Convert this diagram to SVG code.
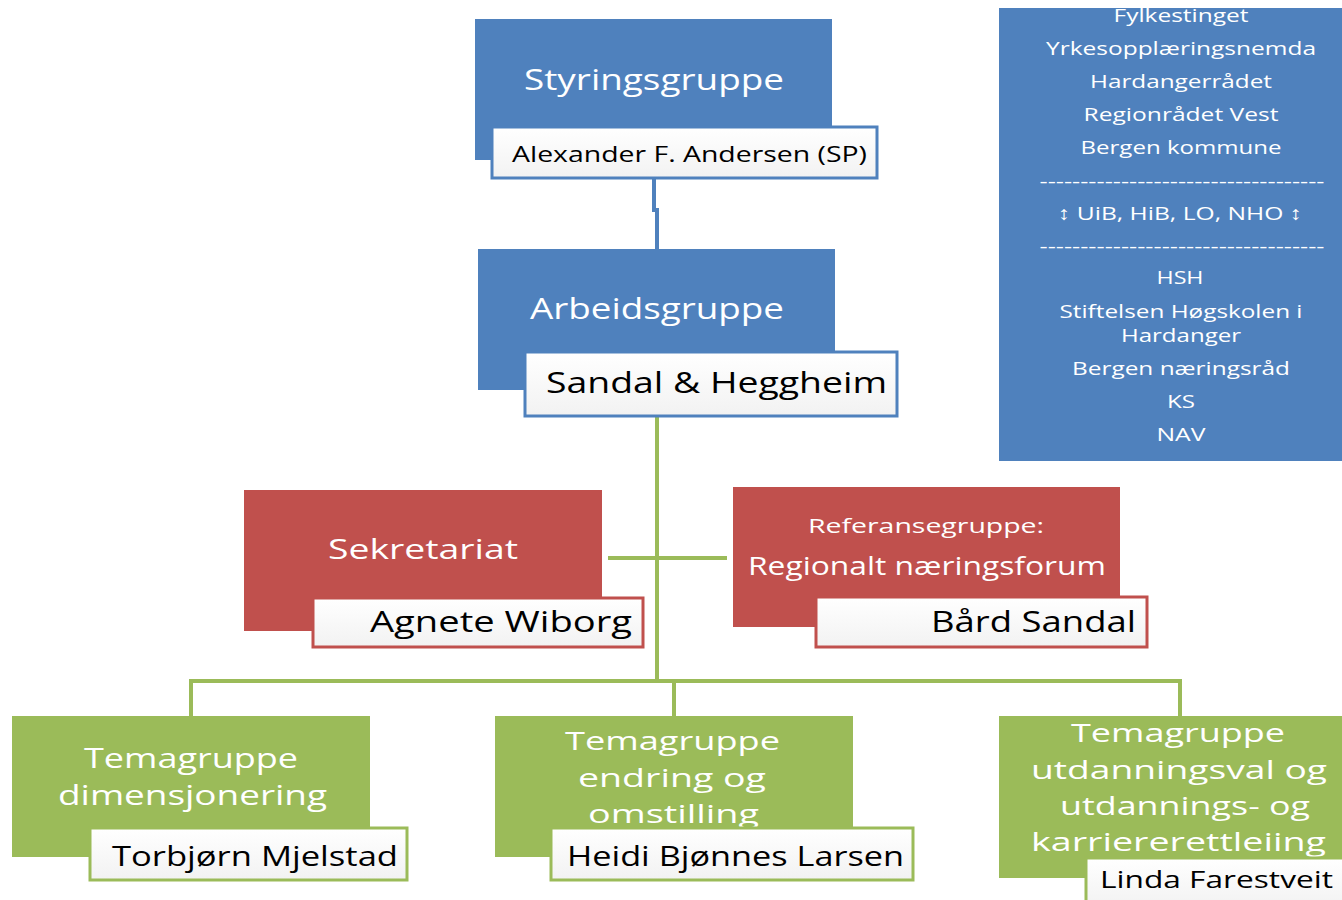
<svg xmlns="http://www.w3.org/2000/svg" width="1342" height="900" viewBox="0 0 1342 900">
<style>
.t{font-family:"Open Sans","Noto Sans",sans-serif;}
.w{fill:#ffffff;}
.k{fill:#000000;}
.c{text-anchor:middle;}
.blue{fill:#4F81BD;}
.red{fill:#C0504D;}
.green{fill:#9BBB59;}
.nb{fill:url(#wg);stroke:#4F81BD;stroke-width:3;}
.nr{fill:url(#wg);stroke:#C0504D;stroke-width:3;}
.ng{fill:url(#wg);stroke:#9BBB59;stroke-width:3;}
.cb{fill:none;stroke:#4F81BD;stroke-width:4;}
.cg{fill:none;stroke:#9BBB59;stroke-width:4;}
</style>
<defs>
<linearGradient id="wg" x1="0" y1="0" x2="0" y2="1">
<stop offset="0" stop-color="#ffffff"/>
<stop offset="1" stop-color="#f2f2f2"/>
</linearGradient>
</defs>
<rect width="1342" height="900" fill="#ffffff"/>
<g id="connectors">
<path class="cb" d="M654 178 V210 H657 V249"/>
<path class="cg" d="M657 416 V681"/>
<path class="cg" d="M608 558 H727"/>
<path class="cg" d="M191 681 H1180"/>
<path class="cg" d="M191 679 V716"/>
<path class="cg" d="M674 679 V716"/>
<path class="cg" d="M1180 679 V716"/>
</g>
<g id="styringsgruppe">
<rect class="blue" x="475" y="19" width="357" height="141"/>
<text class="t w" x="524" y="90" font-size="29" textLength="260" lengthAdjust="spacingAndGlyphs">Styringsgruppe</text>
<rect class="nb" x="492" y="127" width="385" height="51"/>
<text class="t k" x="512" y="162" font-size="22" textLength="355" lengthAdjust="spacingAndGlyphs">Alexander F. Andersen (SP)</text>
</g>
<g id="arbeidsgruppe">
<rect class="blue" x="478" y="249" width="357" height="141"/>
<text class="t w" x="530" y="319" font-size="29" textLength="254" lengthAdjust="spacingAndGlyphs">Arbeidsgruppe</text>
<rect class="nb" x="525" y="352" width="372" height="64"/>
<text class="t k" x="546" y="393" font-size="29" textLength="341" lengthAdjust="spacingAndGlyphs">Sandal &amp; Heggheim</text>
</g>
<g id="medlemmer">
<rect class="blue" x="999" y="8" width="343" height="453"/>
<g class="t w c" font-size="19">
<text x="1181" y="22" textLength="135" lengthAdjust="spacingAndGlyphs">Fylkestinget</text>
<text x="1181" y="55" textLength="270" lengthAdjust="spacingAndGlyphs">Yrkesopplæringsnemda</text>
<text x="1181" y="88" textLength="182" lengthAdjust="spacingAndGlyphs">Hardangerrådet</text>
<text x="1181" y="121" textLength="195" lengthAdjust="spacingAndGlyphs">Regionrådet Vest</text>
<text x="1181" y="154" textLength="201" lengthAdjust="spacingAndGlyphs">Bergen kommune</text>
<text x="1182" y="188" textLength="285" lengthAdjust="spacingAndGlyphs">-----------------------------------</text>
<text x="1180" y="220" textLength="244" lengthAdjust="spacingAndGlyphs">↕ UiB, HiB, LO, NHO ↕</text>
<text x="1182" y="253" textLength="285" lengthAdjust="spacingAndGlyphs">-----------------------------------</text>
<text x="1180" y="284" textLength="47" lengthAdjust="spacingAndGlyphs">HSH</text>
<text x="1181" y="318" textLength="243" lengthAdjust="spacingAndGlyphs">Stiftelsen Høgskolen i</text>
<text x="1181" y="342" textLength="120" lengthAdjust="spacingAndGlyphs">Hardanger</text>
<text x="1181" y="375" textLength="218" lengthAdjust="spacingAndGlyphs">Bergen næringsråd</text>
<text x="1181" y="408" textLength="28" lengthAdjust="spacingAndGlyphs">KS</text>
<text x="1181" y="441" textLength="49" lengthAdjust="spacingAndGlyphs">NAV</text>
</g>
</g>
<g id="sekretariat">
<rect class="red" x="244" y="490" width="358" height="141"/>
<text class="t w" x="328" y="559" font-size="28" textLength="190" lengthAdjust="spacingAndGlyphs">Sekretariat</text>
<rect class="nr" x="313" y="598" width="330" height="49"/>
<text class="t k" x="370" y="632" font-size="29" textLength="262" lengthAdjust="spacingAndGlyphs">Agnete Wiborg</text>
</g>
<g id="referansegruppe">
<rect class="red" x="733" y="487" width="387" height="140"/>
<text class="t w" x="808" y="533" font-size="20" textLength="236" lengthAdjust="spacingAndGlyphs">Referansegruppe:</text>
<text class="t w" x="748" y="575" font-size="26" textLength="358" lengthAdjust="spacingAndGlyphs">Regionalt næringsforum</text>
<rect class="nr" x="816" y="597" width="331" height="50"/>
<text class="t k" x="931" y="632" font-size="29" textLength="205" lengthAdjust="spacingAndGlyphs">Bård Sandal</text>
</g>
<g id="tema-dimensjonering">
<rect class="green" x="12" y="716" width="358" height="141"/>
<text class="t w" x="84" y="768" font-size="27" textLength="214" lengthAdjust="spacingAndGlyphs">Temagruppe</text>
<text class="t w" x="58" y="805" font-size="27" textLength="269" lengthAdjust="spacingAndGlyphs">dimensjonering</text>
<rect class="ng" x="90" y="828" width="317" height="52"/>
<text class="t k" x="112" y="866" font-size="27" textLength="286" lengthAdjust="spacingAndGlyphs">Torbjørn Mjelstad</text>
</g>
<g id="tema-endring">
<rect class="green" x="495" y="716" width="358" height="141"/>
<text class="t w" x="565" y="750" font-size="26" textLength="215" lengthAdjust="spacingAndGlyphs">Temagruppe</text>
<text class="t w" x="578" y="787" font-size="26" textLength="188" lengthAdjust="spacingAndGlyphs">endring og</text>
<text class="t w" x="588" y="823" font-size="26" textLength="171" lengthAdjust="spacingAndGlyphs">omstilling</text>
<rect class="ng" x="551" y="828" width="362" height="52"/>
<text class="t k" x="567" y="866" font-size="27" textLength="337" lengthAdjust="spacingAndGlyphs">Heidi Bjønnes Larsen</text>
</g>
<g id="tema-utdanning">
<rect class="green" x="999" y="716" width="343" height="162"/>
<text class="t w" x="1071" y="742" font-size="26" textLength="214" lengthAdjust="spacingAndGlyphs">Temagruppe</text>
<text class="t w" x="1031" y="779" font-size="26" textLength="296" lengthAdjust="spacingAndGlyphs">utdanningsval og</text>
<text class="t w" x="1060" y="815" font-size="26" textLength="250" lengthAdjust="spacingAndGlyphs">utdannings- og</text>
<text class="t w" x="1031" y="851" font-size="26" textLength="295" lengthAdjust="spacingAndGlyphs">karriererettleiing</text>
<rect class="ng" x="1086" y="858" width="270" height="50"/>
<text class="t k" x="1100" y="888" font-size="24" textLength="233" lengthAdjust="spacingAndGlyphs">Linda Farestveit</text>
</g>
</svg>
